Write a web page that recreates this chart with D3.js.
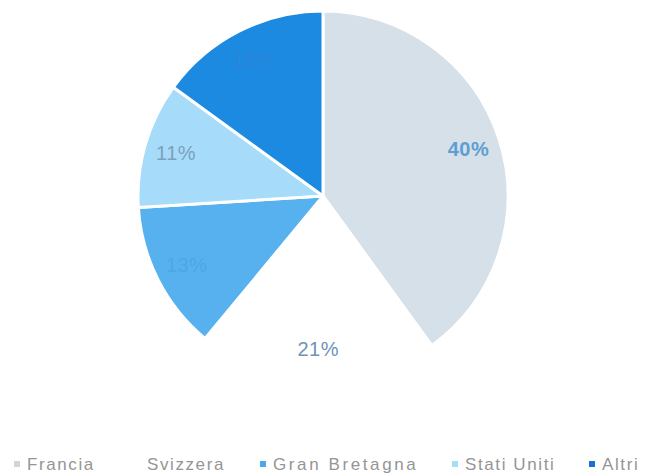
<!DOCTYPE html>
<html>
<head>
<meta charset="utf-8">
<script src="https://cdn.jsdelivr.net/npm/d3@7"></script>
<style>
  html, body { margin: 0; padding: 0; background: #ffffff; }
  svg { display: block; }
</style>
</head>
<body>
<svg id="chart" width="645" height="476"></svg>
<script>
// Market share by country
const categories = ["Francia", "Svizzera", "Gran Bretagna", "Stati Uniti", "Altri"];
const shares = [40, 21, 13, 11, 15];
const valueLabels = ["40%", "21%", "13%", "11%", "15%"];

// Styling per slice
const sliceColors = ["#d6e0e8", "#ffffff", "#57b1ee", "#a6dcf9", "#1c8ae1"];
const labelColors = ["#5d9ed3", "#6f93b8", "#4fa6e4", "#7c9fc0", "#2c86d8"];
const labelWeights = ["bold", "normal", "normal", "normal", "normal"];
const markerColors = ["#d2d6da", "#ffffff", "#4ea7ea", "#a9dcf6", "#1a6fd4"];
const legendX = [17, 137, 263, 455, 592];
const legendSpacing = [1.6, 1.6, 2.6, 1.6, 1.6];

const svg = d3.select("#chart");
const cx = 323, cy = 196, radius = 185;

const pie = d3.pie().sort(null).value(d => d.value);
const arcs = pie(categories.map((c, i) => ({ name: c, value: shares[i], i })));

const arc = d3.arc().innerRadius(0).outerRadius(radius);
const labelArc = d3.arc().innerRadius(153).outerRadius(153);

const g = svg.append("g").attr("transform", `translate(${cx},${cy})`);

g.selectAll("path.slice")
  .data(arcs)
  .join("path")
  .attr("class", "slice")
  .attr("d", arc)
  .attr("fill", d => sliceColors[d.data.i])
  .attr("stroke", "#ffffff")
  .attr("stroke-width", 3)
  .attr("stroke-linejoin", "round");

g.selectAll("text.val")
  .data(arcs)
  .join("text")
  .attr("class", "val")
  .attr("transform", d => `translate(${labelArc.centroid(d)})`)
  .attr("text-anchor", "middle")
  .attr("dominant-baseline", "central")
  .attr("font-family", "Liberation Sans, Arial, sans-serif")
  .attr("font-size", 20)
  .attr("letter-spacing", 0.5)
  .attr("font-weight", d => labelWeights[d.data.i])
  .attr("fill", d => labelColors[d.data.i])
  .text(d => valueLabels[d.data.i]);

// Legend
const legend = svg.append("g").attr("transform", "translate(0,464)");
const items = legend.selectAll("g.item")
  .data(categories)
  .join("g")
  .attr("class", "item")
  .attr("transform", (d, i) => `translate(${legendX[i]},0)`);

items.append("rect")
  .attr("x", -3)
  .attr("y", -3)
  .attr("width", 6)
  .attr("height", 6)
  .attr("fill", (d, i) => markerColors[i]);

items.append("text")
  .attr("x", 10)
  .attr("y", 0)
  .attr("dominant-baseline", "central")
  .attr("font-family", "Liberation Sans, Arial, sans-serif")
  .attr("font-size", 17)
  .attr("letter-spacing", (d, i) => legendSpacing[i])
  .attr("fill", "#959595")
  .text(d => d);
</script>
</body>
</html>
